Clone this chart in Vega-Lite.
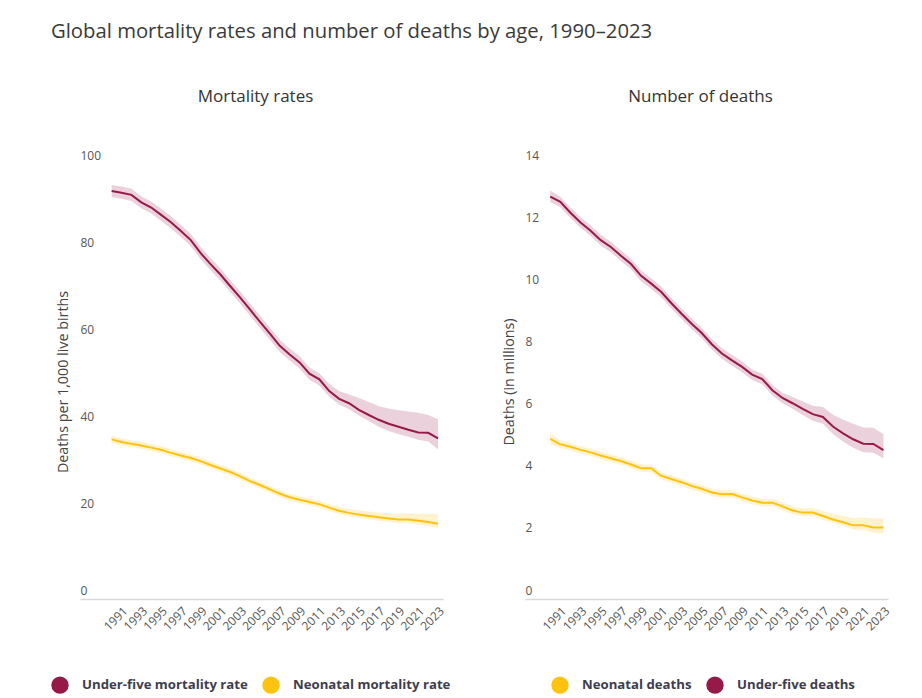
{
  "$schema": "https://vega.github.io/schema/vega-lite/v6.json",
  "padding": {"left": 51, "top": 21, "right": 5, "bottom": 5},
  "background": "white",
  "config": {"font": "Open Sans", "view": {"stroke": null}, "concat": {"spacing": 51}},
  "title": {"text": "Global mortality rates and number of deaths by age, 1990–2023", "anchor": "start", "fontSize": 20.3, "fontWeight": "normal", "color": "#3a3a3a", "offset": 46},
  "datasets": {
    "rates": [
      {"series":"Under-five mortality rate","year":1990,"value":93.8,"lower":92.4,"upper":95.2},
      {"series":"Under-five mortality rate","year":1991,"value":93.4,"lower":92.0,"upper":94.8},
      {"series":"Under-five mortality rate","year":1992,"value":92.9,"lower":91.5,"upper":94.3},
      {"series":"Under-five mortality rate","year":1993,"value":91.2,"lower":89.8,"upper":92.6},
      {"series":"Under-five mortality rate","year":1994,"value":90.0,"lower":88.6,"upper":91.4},
      {"series":"Under-five mortality rate","year":1995,"value":88.3,"lower":86.9,"upper":89.7},
      {"series":"Under-five mortality rate","year":1996,"value":86.6,"lower":85.2,"upper":88.0},
      {"series":"Under-five mortality rate","year":1997,"value":84.6,"lower":83.2,"upper":86.0},
      {"series":"Under-five mortality rate","year":1998,"value":82.5,"lower":81.1,"upper":83.9},
      {"series":"Under-five mortality rate","year":1999,"value":79.5,"lower":78.1,"upper":80.9},
      {"series":"Under-five mortality rate","year":2000,"value":77.0,"lower":75.6,"upper":78.4},
      {"series":"Under-five mortality rate","year":2001,"value":74.6,"lower":73.2,"upper":76.0},
      {"series":"Under-five mortality rate","year":2002,"value":71.9,"lower":70.5,"upper":73.3},
      {"series":"Under-five mortality rate","year":2003,"value":69.3,"lower":67.9,"upper":70.7},
      {"series":"Under-five mortality rate","year":2004,"value":66.5,"lower":65.1,"upper":67.9},
      {"series":"Under-five mortality rate","year":2005,"value":63.7,"lower":62.3,"upper":65.1},
      {"series":"Under-five mortality rate","year":2006,"value":61.0,"lower":59.6,"upper":62.4},
      {"series":"Under-five mortality rate","year":2007,"value":58.2,"lower":56.8,"upper":59.6},
      {"series":"Under-five mortality rate","year":2008,"value":56.2,"lower":54.8,"upper":57.6},
      {"series":"Under-five mortality rate","year":2009,"value":54.4,"lower":53.0,"upper":55.8},
      {"series":"Under-five mortality rate","year":2010,"value":51.8,"lower":50.4,"upper":53.2},
      {"series":"Under-five mortality rate","year":2011,"value":50.5,"lower":49.1,"upper":51.9},
      {"series":"Under-five mortality rate","year":2012,"value":47.8,"lower":46.5,"upper":49.4},
      {"series":"Under-five mortality rate","year":2013,"value":46.0,"lower":44.7,"upper":47.8},
      {"series":"Under-five mortality rate","year":2014,"value":45.0,"lower":43.6,"upper":47.0},
      {"series":"Under-five mortality rate","year":2015,"value":43.5,"lower":42.2,"upper":46.2},
      {"series":"Under-five mortality rate","year":2016,"value":42.3,"lower":40.9,"upper":45.3},
      {"series":"Under-five mortality rate","year":2017,"value":41.2,"lower":39.6,"upper":44.3},
      {"series":"Under-five mortality rate","year":2018,"value":40.3,"lower":38.6,"upper":43.8},
      {"series":"Under-five mortality rate","year":2019,"value":39.6,"lower":37.9,"upper":43.4},
      {"series":"Under-five mortality rate","year":2020,"value":38.9,"lower":37.3,"upper":43.1},
      {"series":"Under-five mortality rate","year":2021,"value":38.3,"lower":36.6,"upper":42.8},
      {"series":"Under-five mortality rate","year":2022,"value":38.2,"lower":36.2,"upper":42.3},
      {"series":"Under-five mortality rate","year":2023,"value":36.9,"lower":34.4,"upper":41.3},
      {"series":"Neonatal mortality rate","year":1990,"value":36.7,"lower":35.9,"upper":37.5},
      {"series":"Neonatal mortality rate","year":1991,"value":36.1,"lower":35.3,"upper":36.9},
      {"series":"Neonatal mortality rate","year":1992,"value":35.7,"lower":34.9,"upper":36.5},
      {"series":"Neonatal mortality rate","year":1993,"value":35.3,"lower":34.5,"upper":36.1},
      {"series":"Neonatal mortality rate","year":1994,"value":34.8,"lower":34.0,"upper":35.6},
      {"series":"Neonatal mortality rate","year":1995,"value":34.3,"lower":33.5,"upper":35.1},
      {"series":"Neonatal mortality rate","year":1996,"value":33.6,"lower":32.8,"upper":34.4},
      {"series":"Neonatal mortality rate","year":1997,"value":33.0,"lower":32.2,"upper":33.8},
      {"series":"Neonatal mortality rate","year":1998,"value":32.4,"lower":31.6,"upper":33.2},
      {"series":"Neonatal mortality rate","year":1999,"value":31.7,"lower":30.9,"upper":32.5},
      {"series":"Neonatal mortality rate","year":2000,"value":30.8,"lower":30.0,"upper":31.6},
      {"series":"Neonatal mortality rate","year":2001,"value":30.0,"lower":29.2,"upper":30.8},
      {"series":"Neonatal mortality rate","year":2002,"value":29.2,"lower":28.4,"upper":30.0},
      {"series":"Neonatal mortality rate","year":2003,"value":28.2,"lower":27.4,"upper":29.0},
      {"series":"Neonatal mortality rate","year":2004,"value":27.1,"lower":26.3,"upper":27.9},
      {"series":"Neonatal mortality rate","year":2005,"value":26.2,"lower":25.4,"upper":27.0},
      {"series":"Neonatal mortality rate","year":2006,"value":25.2,"lower":24.4,"upper":26.0},
      {"series":"Neonatal mortality rate","year":2007,"value":24.2,"lower":23.4,"upper":25.0},
      {"series":"Neonatal mortality rate","year":2008,"value":23.4,"lower":22.6,"upper":24.2},
      {"series":"Neonatal mortality rate","year":2009,"value":22.8,"lower":22.0,"upper":23.6},
      {"series":"Neonatal mortality rate","year":2010,"value":22.3,"lower":21.5,"upper":23.1},
      {"series":"Neonatal mortality rate","year":2011,"value":21.8,"lower":21.0,"upper":22.6},
      {"series":"Neonatal mortality rate","year":2012,"value":21.0,"lower":20.2,"upper":21.8},
      {"series":"Neonatal mortality rate","year":2013,"value":20.3,"lower":19.5,"upper":21.2},
      {"series":"Neonatal mortality rate","year":2014,"value":19.8,"lower":19.0,"upper":20.7},
      {"series":"Neonatal mortality rate","year":2015,"value":19.4,"lower":18.6,"upper":20.4},
      {"series":"Neonatal mortality rate","year":2016,"value":19.1,"lower":18.3,"upper":20.1},
      {"series":"Neonatal mortality rate","year":2017,"value":18.8,"lower":18.0,"upper":19.9},
      {"series":"Neonatal mortality rate","year":2018,"value":18.5,"lower":17.7,"upper":19.7},
      {"series":"Neonatal mortality rate","year":2019,"value":18.3,"lower":17.5,"upper":19.6},
      {"series":"Neonatal mortality rate","year":2020,"value":18.3,"lower":17.4,"upper":19.7},
      {"series":"Neonatal mortality rate","year":2021,"value":18.0,"lower":17.1,"upper":19.6},
      {"series":"Neonatal mortality rate","year":2022,"value":17.7,"lower":16.8,"upper":19.6},
      {"series":"Neonatal mortality rate","year":2023,"value":17.3,"lower":16.3,"upper":19.5}
    ],
    "deaths": [
      {"series":"Under-five deaths","year":1990,"value":12.95,"lower":12.78,"upper":13.15},
      {"series":"Under-five deaths","year":1991,"value":12.78,"lower":12.61,"upper":12.95},
      {"series":"Under-five deaths","year":1992,"value":12.43,"lower":12.26,"upper":12.60},
      {"series":"Under-five deaths","year":1993,"value":12.12,"lower":11.95,"upper":12.29},
      {"series":"Under-five deaths","year":1994,"value":11.85,"lower":11.68,"upper":12.02},
      {"series":"Under-five deaths","year":1995,"value":11.55,"lower":11.38,"upper":11.72},
      {"series":"Under-five deaths","year":1996,"value":11.33,"lower":11.16,"upper":11.50},
      {"series":"Under-five deaths","year":1997,"value":11.05,"lower":10.88,"upper":11.22},
      {"series":"Under-five deaths","year":1998,"value":10.78,"lower":10.61,"upper":10.95},
      {"series":"Under-five deaths","year":1999,"value":10.40,"lower":10.23,"upper":10.57},
      {"series":"Under-five deaths","year":2000,"value":10.15,"lower":9.98,"upper":10.32},
      {"series":"Under-five deaths","year":2001,"value":9.88,"lower":9.71,"upper":10.05},
      {"series":"Under-five deaths","year":2002,"value":9.52,"lower":9.35,"upper":9.69},
      {"series":"Under-five deaths","year":2003,"value":9.18,"lower":9.01,"upper":9.35},
      {"series":"Under-five deaths","year":2004,"value":8.86,"lower":8.69,"upper":9.03},
      {"series":"Under-five deaths","year":2005,"value":8.56,"lower":8.39,"upper":8.73},
      {"series":"Under-five deaths","year":2006,"value":8.20,"lower":8.03,"upper":8.37},
      {"series":"Under-five deaths","year":2007,"value":7.90,"lower":7.73,"upper":8.07},
      {"series":"Under-five deaths","year":2008,"value":7.68,"lower":7.51,"upper":7.85},
      {"series":"Under-five deaths","year":2009,"value":7.47,"lower":7.30,"upper":7.64},
      {"series":"Under-five deaths","year":2010,"value":7.22,"lower":7.05,"upper":7.39},
      {"series":"Under-five deaths","year":2011,"value":7.08,"lower":6.91,"upper":7.25},
      {"series":"Under-five deaths","year":2012,"value":6.72,"lower":6.55,"upper":6.89},
      {"series":"Under-five deaths","year":2013,"value":6.47,"lower":6.30,"upper":6.64},
      {"series":"Under-five deaths","year":2014,"value":6.30,"lower":6.12,"upper":6.50},
      {"series":"Under-five deaths","year":2015,"value":6.12,"lower":5.92,"upper":6.36},
      {"series":"Under-five deaths","year":2016,"value":5.95,"lower":5.74,"upper":6.22},
      {"series":"Under-five deaths","year":2017,"value":5.86,"lower":5.64,"upper":6.18},
      {"series":"Under-five deaths","year":2018,"value":5.55,"lower":5.31,"upper":5.93},
      {"series":"Under-five deaths","year":2019,"value":5.33,"lower":5.07,"upper":5.77},
      {"series":"Under-five deaths","year":2020,"value":5.14,"lower":4.87,"upper":5.64},
      {"series":"Under-five deaths","year":2021,"value":5.00,"lower":4.72,"upper":5.52},
      {"series":"Under-five deaths","year":2022,"value":4.99,"lower":4.71,"upper":5.51},
      {"series":"Under-five deaths","year":2023,"value":4.79,"lower":4.53,"upper":5.30},
      {"series":"Neonatal deaths","year":1990,"value":5.15,"lower":4.98,"upper":5.33},
      {"series":"Neonatal deaths","year":1991,"value":4.98,"lower":4.86,"upper":5.10},
      {"series":"Neonatal deaths","year":1992,"value":4.90,"lower":4.78,"upper":5.02},
      {"series":"Neonatal deaths","year":1993,"value":4.80,"lower":4.68,"upper":4.92},
      {"series":"Neonatal deaths","year":1994,"value":4.72,"lower":4.60,"upper":4.84},
      {"series":"Neonatal deaths","year":1995,"value":4.62,"lower":4.50,"upper":4.74},
      {"series":"Neonatal deaths","year":1996,"value":4.53,"lower":4.41,"upper":4.65},
      {"series":"Neonatal deaths","year":1997,"value":4.44,"lower":4.32,"upper":4.56},
      {"series":"Neonatal deaths","year":1998,"value":4.33,"lower":4.21,"upper":4.45},
      {"series":"Neonatal deaths","year":1999,"value":4.21,"lower":4.09,"upper":4.33},
      {"series":"Neonatal deaths","year":2000,"value":4.21,"lower":4.09,"upper":4.33},
      {"series":"Neonatal deaths","year":2001,"value":3.96,"lower":3.84,"upper":4.08},
      {"series":"Neonatal deaths","year":2002,"value":3.86,"lower":3.74,"upper":3.98},
      {"series":"Neonatal deaths","year":2003,"value":3.76,"lower":3.64,"upper":3.88},
      {"series":"Neonatal deaths","year":2004,"value":3.64,"lower":3.52,"upper":3.76},
      {"series":"Neonatal deaths","year":2005,"value":3.55,"lower":3.43,"upper":3.67},
      {"series":"Neonatal deaths","year":2006,"value":3.43,"lower":3.31,"upper":3.55},
      {"series":"Neonatal deaths","year":2007,"value":3.37,"lower":3.25,"upper":3.49},
      {"series":"Neonatal deaths","year":2008,"value":3.38,"lower":3.26,"upper":3.50},
      {"series":"Neonatal deaths","year":2009,"value":3.27,"lower":3.15,"upper":3.39},
      {"series":"Neonatal deaths","year":2010,"value":3.17,"lower":3.05,"upper":3.29},
      {"series":"Neonatal deaths","year":2011,"value":3.10,"lower":2.98,"upper":3.22},
      {"series":"Neonatal deaths","year":2012,"value":3.10,"lower":2.98,"upper":3.22},
      {"series":"Neonatal deaths","year":2013,"value":2.98,"lower":2.86,"upper":3.11},
      {"series":"Neonatal deaths","year":2014,"value":2.85,"lower":2.73,"upper":2.98},
      {"series":"Neonatal deaths","year":2015,"value":2.78,"lower":2.66,"upper":2.92},
      {"series":"Neonatal deaths","year":2016,"value":2.78,"lower":2.66,"upper":2.93},
      {"series":"Neonatal deaths","year":2017,"value":2.67,"lower":2.56,"upper":2.83},
      {"series":"Neonatal deaths","year":2018,"value":2.56,"lower":2.45,"upper":2.74},
      {"series":"Neonatal deaths","year":2019,"value":2.47,"lower":2.35,"upper":2.67},
      {"series":"Neonatal deaths","year":2020,"value":2.37,"lower":2.24,"upper":2.60},
      {"series":"Neonatal deaths","year":2021,"value":2.37,"lower":2.22,"upper":2.63},
      {"series":"Neonatal deaths","year":2022,"value":2.30,"lower":2.13,"upper":2.60},
      {"series":"Neonatal deaths","year":2023,"value":2.30,"lower":2.10,"upper":2.60}
    ]
  },
  "hconcat": [
    {
      "width": 363,
      "height": 435,
      "title": {"text": "Mortality rates", "fontSize": 17, "fontWeight": "normal", "color": "#333333", "offset": 43, "dx": -6},
      "data": {"name": "rates"},
      "encoding": {
        "x": {"field": "year", "type": "quantitative",
          "scale": {"domain": [1986.8, 2023.5], "nice": false, "zero": false},
          "axis": {"title": null, "values": [1991,1993,1995,1997,1999,2001,2003,2005,2007,2009,2011,2013,2015,2017,2019,2021,2023], "format": "d", "grid": false, "ticks": false, "domain": true, "domainColor": "#d9d9d9", "domainWidth": 1.5, "labelAngle": -45, "labelFontSize": 12, "labelColor": "#555555", "labelPadding": 6, "labelFlush": false, "labelOverlap": false}}
      },
      "layer": [
        {
          "mark": {"type": "area", "fillOpacity": 0.2},
          "encoding": {
            "y": {"field": "lower", "type": "quantitative", "scale": {"domain": [0, 100], "nice": false},
              "axis": {"title": "Deaths per 1,000 live births", "values": [0,20,40,60,80,100], "domain": false, "ticks": false, "grid": false, "labelAlign": "left", "labelPadding": 0, "labelBaseline": "alphabetic", "labelOffset": -5, "labelFontSize": 12, "labelColor": "#555555", "labelFlush": false, "titleFontSize": 14.3, "titleFontWeight": "normal", "titleColor": "#444444", "titlePadding": 10, "minExtent": 0}},
            "y2": {"field": "upper"},
            "fill": {"field": "series", "type": "nominal",
              "scale": {"domain": ["Under-five mortality rate", "Neonatal mortality rate"], "range": ["#961A49", "#FFC20E"]},
              "legend": {"title": null, "orient": "none", "legendX": -29, "legendY": 512, "direction": "horizontal", "symbolType": "circle", "symbolSize": 300, "labelFontSize": 13.2, "labelFontWeight": "bold", "labelColor": "#3d3d4d", "labelOffset": 13, "labelLimit": 400, "columnPadding": 14, "symbolStrokeWidth": 0,
                "encode": {"symbols": {"update": {"opacity": {"value": 1}, "fillOpacity": {"value": 1}}}}}}
          }
        },
        {
          "mark": {"type": "line", "strokeWidth": 2},
          "encoding": {
            "y": {"field": "value", "type": "quantitative"},
            "stroke": {"field": "series", "type": "nominal",
              "scale": {"domain": ["Under-five mortality rate", "Neonatal mortality rate"], "range": ["#961A49", "#FFC20E"]},
              "legend": null}
          }
        }
      ]
    },
    {
      "width": 363,
      "height": 435,
      "title": {"text": "Number of deaths", "fontSize": 17, "fontWeight": "normal", "color": "#333333", "offset": 43, "dx": -6},
      "data": {"name": "deaths"},
      "encoding": {
        "x": {"field": "year", "type": "quantitative",
          "scale": {"domain": [1987.5, 2023.45], "nice": false, "zero": false},
          "axis": {"title": null, "values": [1991,1993,1995,1997,1999,2001,2003,2005,2007,2009,2011,2013,2015,2017,2019,2021,2023], "format": "d", "grid": false, "ticks": false, "domain": true, "domainColor": "#d9d9d9", "domainWidth": 1.5, "labelAngle": -45, "labelFontSize": 12, "labelColor": "#555555", "labelPadding": 6, "labelFlush": false, "labelOverlap": false}}
      },
      "layer": [
        {
          "mark": {"type": "area", "fillOpacity": 0.2},
          "encoding": {
            "y": {"field": "lower", "type": "quantitative", "scale": {"domain": [0, 14], "nice": false},
              "axis": {"title": "Deaths (in millions)", "values": [0,2,4,6,8,10,12,14], "domain": false, "ticks": false, "grid": false, "labelAlign": "left", "labelPadding": 0, "labelBaseline": "alphabetic", "labelOffset": -5, "labelFontSize": 12, "labelColor": "#555555", "labelFlush": false, "titleFontSize": 14.3, "titleFontWeight": "normal", "titleColor": "#444444", "titlePadding": 9, "minExtent": 0}},
            "y2": {"field": "upper"},
            "fill": {"field": "series", "type": "nominal",
              "scale": {"domain": ["Neonatal deaths", "Under-five deaths"], "range": ["#FFC20E", "#961A49"]},
              "legend": {"title": null, "orient": "none", "legendX": 26, "legendY": 512, "direction": "horizontal", "symbolType": "circle", "symbolSize": 300, "labelFontSize": 13.2, "labelFontWeight": "bold", "labelColor": "#3d3d4d", "labelOffset": 13, "labelLimit": 400, "columnPadding": 14, "symbolStrokeWidth": 0,
                "encode": {"symbols": {"update": {"opacity": {"value": 1}, "fillOpacity": {"value": 1}}}}}}
          }
        },
        {
          "mark": {"type": "line", "strokeWidth": 2},
          "encoding": {
            "y": {"field": "value", "type": "quantitative"},
            "stroke": {"field": "series", "type": "nominal",
              "scale": {"domain": ["Neonatal deaths", "Under-five deaths"], "range": ["#FFC20E", "#961A49"]},
              "legend": null}
          }
        }
      ]
    }
  ],
  "resolve": {"scale": {"x": "independent", "y": "independent", "fill": "independent", "stroke": "independent"}, "legend": {"fill": "independent"}}
}
